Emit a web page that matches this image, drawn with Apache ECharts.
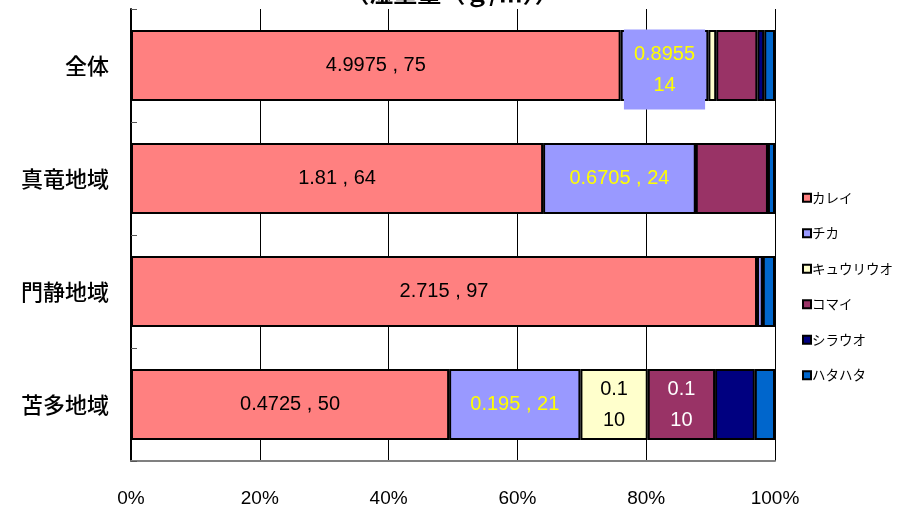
<!DOCTYPE html>
<html><head><meta charset="utf-8">
<script src="https://cdn.jsdelivr.net/npm/echarts@6/dist/echarts.min.js"></script>
<style>html,body{margin:0;padding:0;background:#fff}#c{width:904px;height:515px}</style>
</head><body><div id="c"></div>
<script>
const categories = ['全体', '真竜地域', '門静地域', '苫多地域'];
const speciesNames = ['カレイ', 'チカ', 'キュウリウオ', 'コマイ', 'シラウオ', 'ハタハタ'];
const xTickLabels = ['0%', '20%', '40%', '60%', '80%', '100%'];
const titleText = '（湿重量（ｇ/㎡））';

// wet weight per category (全体, 真竜, 門静, 苫多)
const karei      = [4.9975, 1.81,   2.715, 0.4725];
const chika      = [0.8955, 0.6705, 0.025, 0.195];
const kyuuriuo   = [0.08,   0,      0,     0.1];
const komai      = [0.42,   0.317,  0,     0.1];
const shirauo    = [0.07,   0,      0,     0.059];
const hatahata   = [0.11,   0.031,  0.053, 0.03];

// data labels shown in the chart ("weight , percent")
const kareiLabels    = ['4.9975 , 75', '1.81 , 64', '2.715 , 97', '0.4725 , 50'];
const chikaLabels    = ['0.8955\n14', '0.6705 , 24', '', '0.195 , 21'];
const kyuuriuoLabels = ['', '', '', '0.1\n10'];
const komaiLabels    = ['', '', '', '0.1\n10'];

const allWeights = [karei, chika, kyuuriuo, komai, shirauo, hatahata];
const allLabels = [kareiLabels, chikaLabels, kyuuriuoLabels, komaiLabels, null, null];
const colors = ['#FF8080', '#9999FF', '#FFFFCC', '#993366', '#000080', '#0066CC'];
const labelColors = ['#000', '#FFFF00', '#000', '#FFFFFF', '#fff', '#fff'];

const totals = categories.map((_, i) => allWeights.reduce((s, arr) => s + arr[i], 0));
const numFont = 'Liberation Sans, Arial, sans-serif';

const series = speciesNames.map((name, si) => ({
  name: name,
  type: 'bar',
  stack: 'total',
  barWidth: 71,
  itemStyle: { color: colors[si], borderColor: '#000', borderWidth: 2 },
  data: categories.map((c, ci) => {
    const v = allWeights[si][ci] / totals[ci] * 100;
    const txt = allLabels[si] ? allLabels[si][ci] : '';
    const item = { value: v };
    if (txt) {
      const lab = {
        show: true, position: 'inside', formatter: txt,
        color: labelColors[si], fontSize: 20, fontFamily: numFont, lineHeight: 31
      };
      if (si === 1 && ci === 0) {
        lab.backgroundColor = colors[1];
        lab.padding = [9, 10, 9, 10];
        lab.offset = [0, 4];
      }
      item.label = lab;
    } else {
      item.label = { show: false };
    }
    return item;
  })
}));

const chart = echarts.init(document.getElementById('c'), null, { renderer: 'canvas' });
chart.setOption({
  animation: false,
  backgroundColor: '#fff',
  color: colors,
  graphic: [{
    type: 'text', left: 'center', top: -19,
    style: { text: titleText, fontSize: 24, fontFamily: 'Noto Sans CJK JP', fontWeight: 'bold', fill: '#000' }
  }],
  grid: { left: 131, right: 129, top: 9, bottom: 54, containLabel: false },
  legend: {
    orient: 'vertical', left: 797, top: 186,
    itemWidth: 8, itemHeight: 8, itemGap: 22,
    icon: 'rect',
    textStyle: { fontSize: 13.5, fontFamily: 'Noto Sans CJK JP', color: '#000', padding: [0, 0, 0, -4] },
    data: speciesNames
  },
  xAxis: {
    type: 'value', min: 0, max: 100, interval: 20,
    axisLine: { show: true, lineStyle: { color: '#808080', width: 2 } },
    axisTick: { show: false },
    splitLine: { show: true, lineStyle: { color: '#000', width: 1 } },
    axisLabel: {
      margin: 28, fontSize: 19, color: '#000',
      fontFamily: 'Liberation Sans, sans-serif',
      formatter: v => xTickLabels[Math.round(v / 20)]
    }
  },
  yAxis: {
    type: 'category', inverse: true, data: categories,
    axisLine: { show: true, lineStyle: { color: '#000', width: 2 } },
    axisTick: { show: true, inside: true, length: 6, lineStyle: { color: '#555', width: 1 } },
    axisLabel: { margin: 22, fontSize: 22, color: '#000', fontFamily: 'Noto Sans CJK JP', fontWeight: 500 }
  },
  series: series
});
</script></body></html>
